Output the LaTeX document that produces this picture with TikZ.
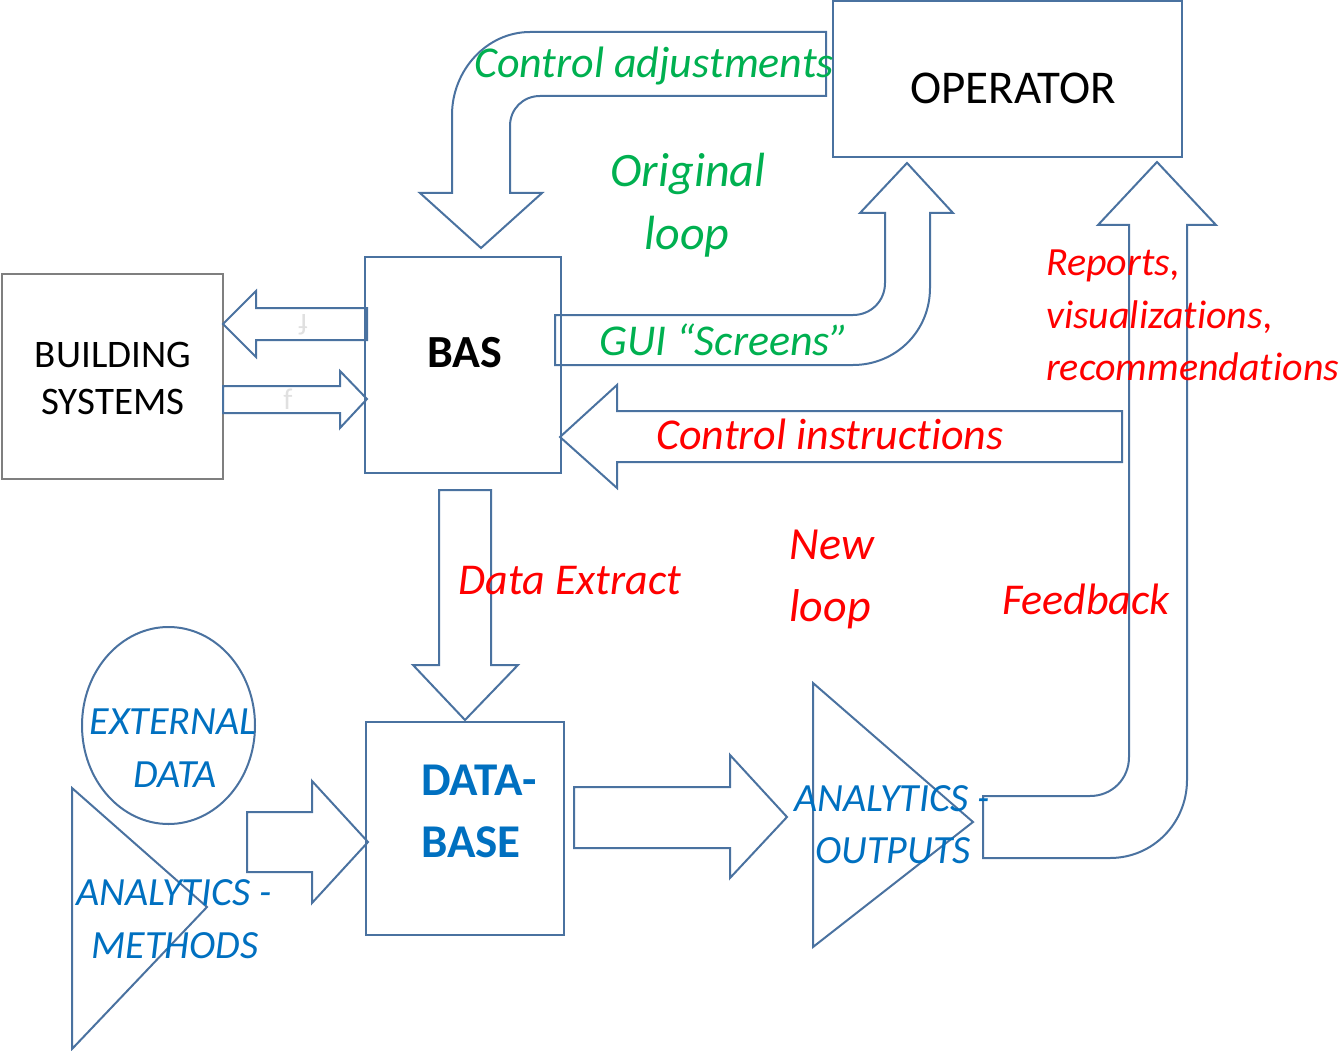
\documentclass[tikz,border=0pt]{standalone}
\usepackage{fontspec}
\setmainfont{Carlito}[Ligatures={NoCommon,NoContextual}]
\usetikzlibrary{shapes.geometric}
\definecolor{ln}{HTML}{4A72A0}
\definecolor{boxgray}{HTML}{7F7F7F}
\definecolor{grn}{HTML}{00B050}
\definecolor{rd}{HTML}{FF0000}
\definecolor{blu}{HTML}{0070C0}
\newcommand\fsz[1]{\fontsize{#1}{#1}\selectfont}
\tikzset{
  box/.style={draw=ln, line width=2pt, inner sep=0pt, shape=rectangle},
  barrow/.style={draw=ln, line width=2pt, line join=miter},
  txt/.style={inner sep=0pt, anchor=base},
  gtxt/.style={txt, text=grn, font=\fsz{44}\itshape},
  rtxt/.style={txt, text=rd, font=\fsz{44}\itshape},
  btxt/.style={txt, text=blu, font=\fsz{40}\itshape},
}
\begin{document}
\begin{tikzpicture}[x=1pt,y=-1pt]
\useasboundingbox (0,0) rectangle (1344,1051);

% boxes
\node[box, minimum width=349pt, minimum height=156pt] (operator) at (1007.5,79) {};
\node[box, minimum width=196pt, minimum height=216pt] (bas) at (463,365) {};
\node[box, draw=boxgray, minimum width=221pt, minimum height=205pt] (bsys) at (112.5,376.5) {};
\node[box, minimum width=198pt, minimum height=213pt] (db) at (465,828.5) {};
\node[draw=ln, line width=2pt, ellipse, minimum width=173pt, minimum height=197pt, inner sep=0pt] (ext) at (168.5,725.5) {};

% triangles
\draw[barrow] (72,788) coordinate (methA) -- (207,907) coordinate (methB) -- (72,1049) coordinate (methC) -- cycle;
\draw[barrow] (813,683) coordinate (outA) -- (973,822) coordinate (outB) -- (813,947) coordinate (outC) -- cycle;

% Control adjustments arrow (operator -> BAS)
\draw[barrow] (826,32) -- (530,32) .. controls (487,32) and (452,70) .. (452,115)
  -- (452,193) -- (420,193) -- (481,248) -- (542,193) -- (510,193) -- (510,126)
  .. controls (510,109) and (523,96) .. (540,96) -- (826,96) -- cycle;

% GUI Screens arrow (BAS -> operator)
\draw[barrow] (555,315) -- (853,315) .. controls (871,315) and (885,301) .. (885,283)
  -- (885,213) -- (860,213) -- (907,163) -- (953,213) -- (930,213) -- (930,288)
  .. controls (930,331) and (896,365) .. (853,365) -- (555,365) -- cycle;

% Feedback arrow (outputs -> operator)
\draw[barrow] (983,796) -- (1090,796) .. controls (1112,796) and (1129,779) .. (1129,757)
  -- (1129,225) -- (1098,225) -- (1157,162) -- (1216,225) -- (1187,225) -- (1187,780)
  .. controls (1187,823) and (1153,858) .. (1110,858) -- (983,858) -- cycle;

% Control instructions arrow (-> BAS)
\draw[barrow] (560,437) -- (617,385) -- (617,411) -- (1122,411) -- (1122,462)
  -- (617,462) -- (617,488) -- cycle;

% Data extract arrow (BAS -> DB)
\draw[barrow] (439,490) -- (491,490) -- (491,665) -- (518,665) -- (465,720)
  -- (413,665) -- (439,665) -- cycle;

% BAS -> building systems
\draw[barrow] (367,308) -- (256,308) -- (256,291) -- (223,324) -- (256,357)
  -- (256,340) -- (367,340) -- cycle;
% building systems -> BAS
\draw[barrow] (223,386) -- (340,386) -- (340,371) -- (367,399) -- (340,428)
  -- (340,413) -- (223,413) -- cycle;

% external data / methods -> DB
\draw[barrow] (247,812) -- (312,812) -- (312,781) -- (368,842) -- (312,903)
  -- (312,872) -- (247,872) -- cycle;
% DB -> outputs
\draw[barrow] (574,787) -- (730,787) -- (730,755) -- (787,817) -- (730,878)
  -- (730,848) -- (574,848) -- cycle;

% faint glyphs inside small arrows
\node[txt, text=black!12, font=\fsz{30}, rotate=180, anchor=center] (g1) at (303,325) {f};
\node[txt, text=black!12, font=\fsz{30}, anchor=center] (g2) at (288,399) {f};

% texts
\node[txt, font=\fsz{47}] (toper) at (1013,104) {OPERATOR};
\node[txt, font=\fsz{46}\bfseries] (tbas) at (465,367) {BAS};
\node[txt, font=\fsz{39}] (tb1) at (113,367) {BUILDING};
\node[txt, font=\fsz{39}] (tb2) at (113,414) {SYSTEMS};
\node[txt, anchor=base west, text=blu, font=\fsz{47}\bfseries] (td1) at (421,795) {DATA-};
\node[txt, anchor=base west, text=blu, font=\fsz{47}\bfseries] (td2) at (421,857) {BASE};

\node[gtxt] (tca) at (654,78) {Control adjustments};
\node[gtxt, font=\fsz{48}\itshape] (tol1) at (688,187) {Original};
\node[gtxt, font=\fsz{48}\itshape] (tol2) at (687,249) {loop};
\node[gtxt] (tgui) at (724,355) {GUI “Screens”};

\node[rtxt] (tci) at (830,449) {Control instructions};
\node[rtxt, font=\fsz{40}\itshape, anchor=base west] (tr1) at (1046,276) {Reports,};
\node[rtxt, font=\fsz{40}\itshape, anchor=base west] (tr2) at (1046,328) {visualizations,};
\node[rtxt, font=\fsz{40}\itshape, anchor=base west] (tr3) at (1046,380) {recommendations};
\node[rtxt] (tde) at (570,594) {Data Extract};
\node[rtxt, font=\fsz{46}\itshape] (tnl1) at (832,559) {New};
\node[rtxt, font=\fsz{46}\itshape] (tnl2) at (830,621) {loop};
\node[rtxt] (tfb) at (1086,614) {Feedback};

\node[btxt] (te1) at (173,734) {EXTERNAL};
\node[btxt] (te2) at (175,787) {DATA};
\node[btxt] (tm1) at (174,905) {ANALYTICS -};
\node[btxt] (tm2) at (175,958) {METHODS};
\node[btxt] (to1) at (892,811) {ANALYTICS -};
\node[btxt] (to2) at (893,863) {OUTPUTS};
\end{tikzpicture}
\end{document}
